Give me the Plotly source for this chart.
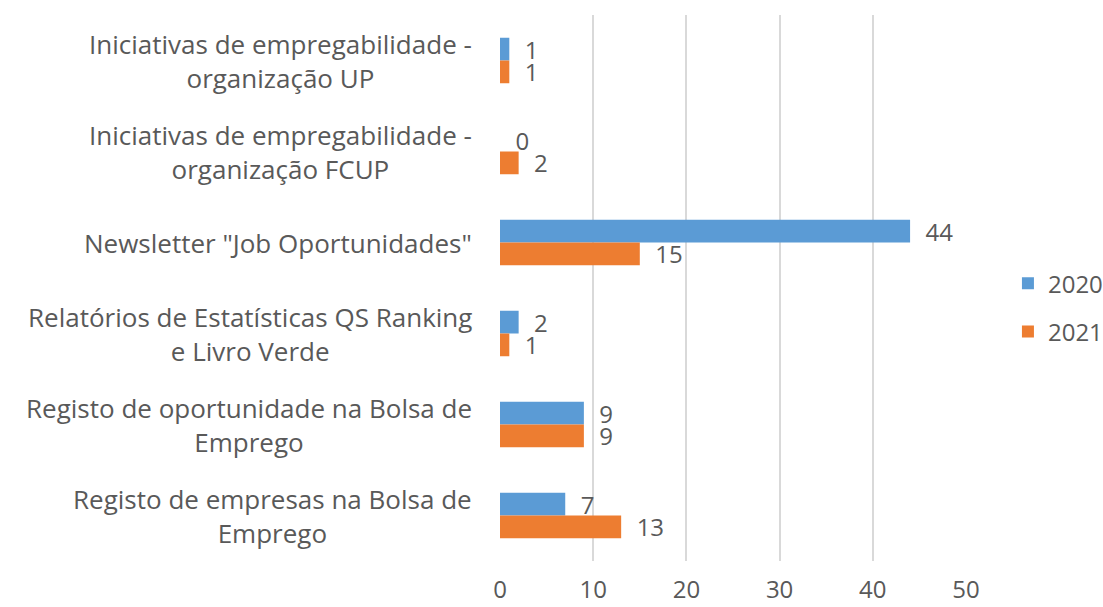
import plotly.graph_objects as go

categories = [
    "Iniciativas de empregabilidade -<br>organização UP",
    "Iniciativas de empregabilidade -<br>organização FCUP",
    "Newsletter \"Job Oportunidades\"",
    "Relatórios de Estatísticas QS Ranking<br>e Livro Verde",
    "Registo de oportunidade na Bolsa de<br>Emprego",
    "Registo de empresas na Bolsa de<br>Emprego",
]
values_2020 = [1, 0, 44, 2, 9, 7]
values_2021 = [1, 2, 15, 1, 9, 13]
x_ticks = [0, 10, 20, 30, 40, 50]

TEXT = "#595959"
FONT = "Open Sans"
PAD = "\u00a0\u00a0"

fig = go.Figure()
for name, vals, color, grp in [
    ("2020", values_2020, "#5B9BD5", "a"),
    ("2021", values_2021, "#ED7D31", "b"),
]:
    fig.add_trace(go.Bar(
        y=categories, x=vals, name=name, orientation="h",
        marker=dict(color=color, line=dict(width=0)),
        text=[PAD + str(v) for v in vals],
        textposition="outside", cliponaxis=False, constraintext="none",
        textfont=dict(family=FONT, size=24, color=TEXT),
        legendgroup=grp,
    ))

# category labels, centred line by line, to the left of the plot
for cat in categories:
    fig.add_annotation(
        x=0, xref="paper", y=cat, yref="y", text=cat,
        xanchor="right", xshift=-26, align="center", showarrow=False,
        font=dict(family=FONT, size=26, color=TEXT),
    )

fig.update_layout(
    width=1103, height=607,
    margin=dict(l=500, r=137, t=15, b=46, autoexpand=False),
    paper_bgcolor="white", plot_bgcolor="white",
    barmode="group", bargap=0.5, bargroupgap=0,
    font=dict(family=FONT, size=24, color=TEXT),
    legend=dict(x=1.09, xanchor="left", y=0.464, yanchor="middle",
                tracegroupgap=14, font=dict(size=24, color=TEXT),
                itemwidth=30),
    xaxis=dict(range=[0, 50], tickvals=x_ticks, showgrid=True,
               gridcolor="#D9D9D9", gridwidth=2, zeroline=False,
               showline=False, ticklabelstandoff=12,
               tickfont=dict(size=24, color=TEXT)),
    yaxis=dict(autorange="reversed", showgrid=False, showline=False,
               showticklabels=False),
)

fig.write_html("out.html")
